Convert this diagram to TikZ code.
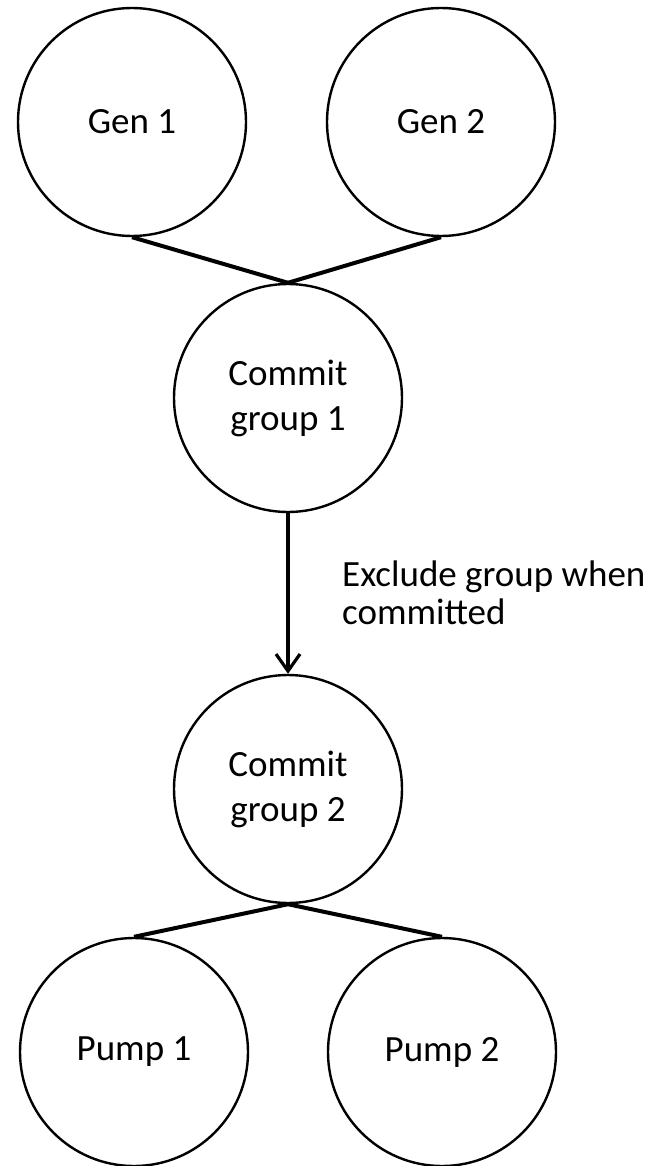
\documentclass[tikz,border=0pt]{standalone}
\usepackage{fontspec}
\setmainfont{Carlito}
\usetikzlibrary{arrows.meta}
\begin{document}
\begin{tikzpicture}[x=1pt,y=-1pt,
  unit/.style={circle,draw,line width=2.4pt,minimum size=228pt,inner sep=0pt,
    align=center,font=\fontsize{37}{45}\selectfont},
  link/.style={line width=4pt},
  flow/.style={line width=3.4pt,-{Straight Barb[length=17pt,width=24pt,line width=3.2pt]}},
  note/.style={align=left,inner sep=0pt,font=\fontsize{37}{38}\selectfont}]
\useasboundingbox (0,0) rectangle (657,1166);
\fill[white] (0,0) rectangle (657,1166);

\node[unit] (g1) at (132,122) {Gen 1};
\node[unit] (g2) at (441,122) {Gen 2};
\node[unit] (c1) at (288,398) {Commit\\group 1};
\node[unit] (c2) at (288,789) {Commit\\group 2};
\node[unit] (p1) at (134,1052) {Pump 1};
\node[unit] (p2) at (442,1052) {Pump 2};

\draw[link] (g1.south) -- (c1.north);
\draw[link] (g2.south) -- (c1.north);
\draw[flow] (c1.south) -- (c2.north);
\draw[link] (c2.south) -- (p1.north);
\draw[link] (c2.south) -- (p2.north);

\node[note,anchor=north west] (lbl) at (342,561) {Exclude group when\\committed};
\end{tikzpicture}
\end{document}
